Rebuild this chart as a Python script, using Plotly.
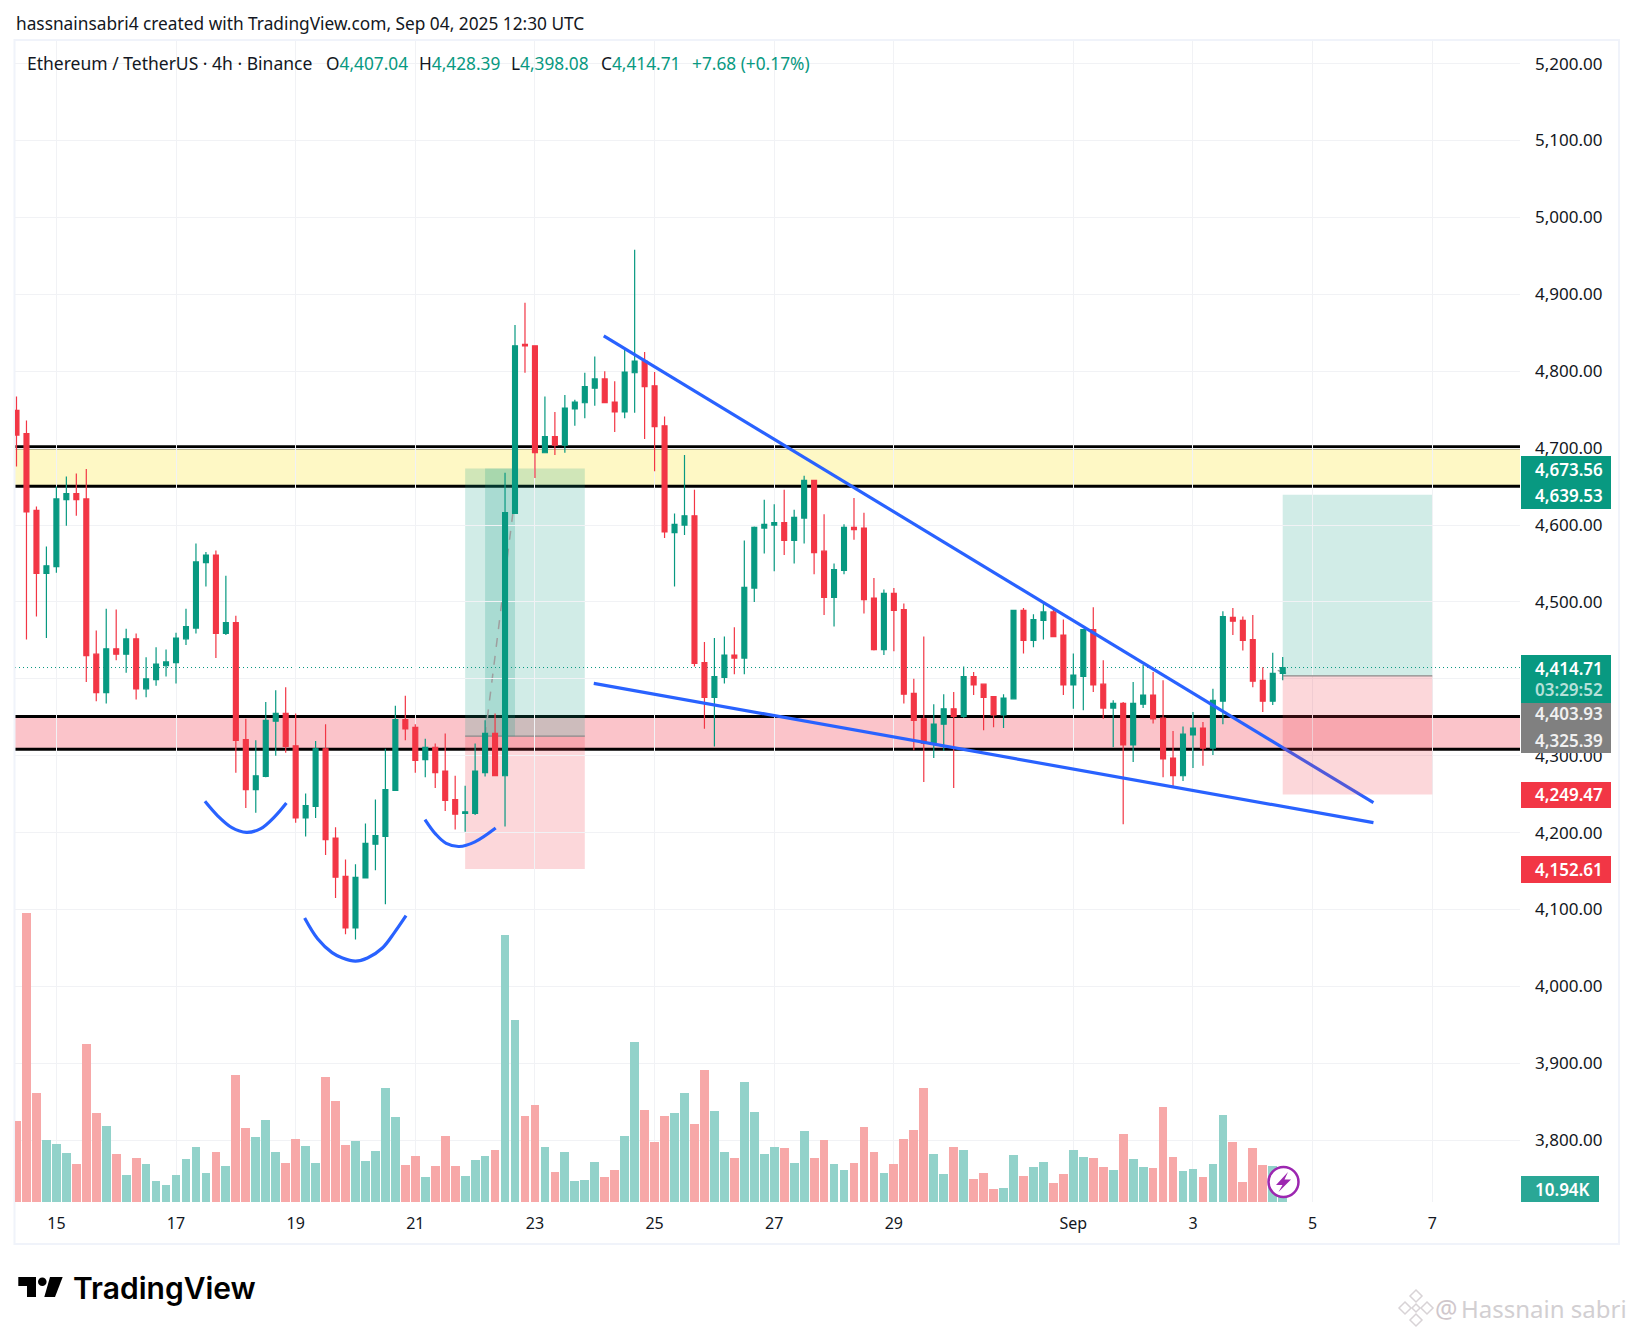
import pandas as pd
import plotly.graph_objects as go

W = 1634
H = 1334
FONT = "Noto Sans"
GREEN = "#089981"
RED = "#F23645"
BLUE = "#2962FF"
TEXT = "#131722"

# 4h candles, first one is Aug 14 08:00 UTC
opens = [4749, 4719, 4619, 4537, 4546, 4633, 4641, 4634, 4432, 4382, 4439, 4432, 4452, 4387, 4399, 4417,
         4421, 4452, 4466, 4551, 4561, 4459, 4473, 4321, 4256, 4273, 4345, 4355, 4313, 4219, 4234, 4309,
         4193, 4143, 4076, 4141, 4185, 4195, 4255, 4347, 4337, 4295, 4311, 4280, 4243, 4225, 4225, 4278,
         4329, 4274, 4615, 4835, 4833, 4694, 4715, 4704, 4751, 4759, 4778, 4790, 4760, 4747, 4798, 4813,
         4781, 4729, 4590, 4600, 4612, 4421, 4376, 4402, 4431, 4427, 4518, 4596, 4600, 4603, 4580, 4609,
         4658, 4566, 4506, 4541, 4597, 4596, 4505, 4438, 4511, 4490, 4381, 4348, 4316, 4341, 4361, 4351,
         4403, 4393, 4377, 4353, 4374, 4489, 4450, 4476, 4487, 4457, 4392, 4403, 4464, 4393, 4362, 4368,
         4314, 4367, 4379, 4349, 4297, 4274, 4327, 4336, 4310, 4371, 4480, 4476, 4451, 4398, 4371, 4407.04]
highs = [4767, 4736, 4624, 4572, 4650, 4663, 4667, 4673, 4463, 4491, 4490, 4465, 4459, 4428, 4441, 4438,
         4460, 4491, 4576, 4565, 4567, 4534, 4482, 4348, 4320, 4370, 4385, 4389, 4355, 4251, 4319, 4341,
         4207, 4165, 4159, 4212, 4243, 4309, 4365, 4378, 4341, 4322, 4316, 4329, 4274, 4261, 4316, 4346,
         4355, 4668, 4860, 4889, 4833, 4767, 4747, 4769, 4763, 4798, 4819, 4800, 4787, 4829, 4958, 4825,
         4799, 4741, 4615, 4691, 4646, 4448, 4453, 4455, 4467, 4580, 4598, 4633, 4627, 4646, 4620, 4664,
         4658, 4614, 4550, 4601, 4635, 4616, 4531, 4516, 4518, 4498, 4400, 4455, 4367, 4380, 4383, 4416,
         4409, 4394, 4377, 4380, 4489, 4492, 4484, 4498, 4492, 4477, 4433, 4464, 4493, 4424, 4372, 4370,
         4396, 4418, 4409, 4398, 4332, 4338, 4357, 4344, 4387, 4488, 4492, 4481, 4483, 4415, 4434, 4428.39]
lows = [4676, 4451, 4481, 4453, 4538, 4599, 4612, 4396, 4371, 4368, 4424, 4408, 4373, 4376, 4391, 4403,
        4394, 4444, 4459, 4520, 4427, 4457, 4278, 4232, 4226, 4272, 4300, 4304, 4213, 4195, 4219, 4171,
        4115, 4068, 4061, 4141, 4151, 4107, 4255, 4320, 4278, 4272, 4258, 4228, 4204, 4201, 4223, 4273,
        4274, 4208, 4615, 4798, 4661, 4694, 4691, 4694, 4729, 4739, 4755, 4759, 4721, 4739, 4746, 4712,
        4670, 4583, 4520, 4587, 4416, 4335, 4312, 4394, 4406, 4406, 4500, 4563, 4540, 4561, 4550, 4576,
        4536, 4483, 4468, 4536, 4581, 4485, 4437, 4431, 4436, 4368, 4307, 4266, 4297, 4306, 4258, 4349,
        4379, 4333, 4337, 4336, 4374, 4433, 4441, 4451, 4455, 4379, 4361, 4359, 4383, 4348, 4311, 4211,
        4292, 4362, 4342, 4272, 4259, 4267, 4284, 4287, 4301, 4341, 4457, 4437, 4389, 4357, 4366, 4398.08]
closes = [4717, 4617, 4537, 4547, 4634, 4641, 4633, 4430, 4382, 4439, 4432, 4452, 4387, 4400, 4419, 4422,
          4453, 4468, 4552, 4561, 4459, 4473, 4320, 4256, 4274, 4346, 4355, 4312, 4219, 4235, 4309, 4191,
          4142, 4076, 4142, 4186, 4196, 4256, 4347, 4335, 4294, 4311, 4278, 4242, 4224, 4227, 4280, 4329,
          4274, 4616, 4833, 4833, 4694, 4715, 4704, 4752, 4760, 4780, 4790, 4759, 4747, 4799, 4813, 4780,
          4728, 4591, 4601, 4612, 4420, 4376, 4403, 4431, 4427, 4519, 4597, 4601, 4603, 4580, 4610, 4658,
          4564, 4506, 4542, 4597, 4594, 4503, 4438, 4511, 4489, 4380, 4346, 4316, 4341, 4361, 4351, 4403,
          4392, 4376, 4353, 4375, 4489, 4450, 4477, 4487, 4455, 4392, 4405, 4464, 4392, 4362, 4368, 4314,
          4368, 4379, 4348, 4296, 4274, 4328, 4336, 4310, 4372, 4481, 4475, 4450, 4397, 4371, 4407, 4414.71]
# volume in thousands
volumes = [68.0, 243.6, 91.6, 52.1, 48.7, 41.2, 31.9, 132.7, 74.8, 63.8, 40.3, 22.7, 37.0, 31.9, 17.6, 14.3,
           22.7, 36.1, 46.2, 24.4, 42.0, 30.2, 106.7, 62.2, 54.6, 68.9, 42.0, 32.8, 52.9, 47.0, 32.8, 105.0,
           84.8, 47.9, 51.2, 34.4, 42.8, 95.8, 71.4, 31.1, 38.6, 21.0, 30.2, 55.4, 30.2, 21.8, 35.3, 38.6,
           43.7, 225.1, 152.9, 72.2, 81.5, 46.2, 25.2, 42.0, 17.6, 18.5, 33.6, 21.0, 26.9, 55.4, 134.4, 77.3,
           50.4, 72.2, 74.8, 91.6, 65.5, 110.9, 76.4, 42.0, 37.0, 100.8, 75.6, 40.3, 46.2, 45.4, 32.8, 59.6,
           37.0, 52.1, 31.9, 26.9, 32.8, 63.0, 42.0, 24.4, 31.9, 52.9, 60.5, 95.8, 40.3, 23.5, 46.2, 43.7,
           19.3, 24.4, 10.9, 11.8, 39.5, 21.8, 29.4, 33.6, 16.0, 23.5, 43.7, 37.8, 37.0, 29.4, 26.9, 57.1,
           36.1, 29.4, 28.6, 79.8, 37.8, 26.0, 27.7, 21.0, 31.9, 73.1, 50.4, 16.8, 45.4, 31.1, 30.2, 10.94]

tick_dates = ["2025-08-15", "2025-08-17", "2025-08-19", "2025-08-21", "2025-08-23", "2025-08-25", "2025-08-27",
              "2025-08-29", "2025-09-01", "2025-09-03", "2025-09-05", "2025-09-07"]
tick_labels = ["15", "17", "19", "21", "23", "25", "27", "29", "Sep", "3", "5", "7"]
price_ticks = [3800, 3900, 4000, 4100, 4200, 4300, 4400, 4500, 4600, 4700, 4800, 4900, 5000, 5100, 5200]
price_tick_labels = ["3,800.00", "3,900.00", "4,000.00", "4,100.00", "4,200.00", "4,300.00", "", "4,500.00",
                     "4,600.00", "4,700.00", "4,800.00", "4,900.00", "5,000.00", "5,100.00", "5,200.00"]

# drawn lines, bars counted from Aug 15 00:00
wedge_top_bars = [54.9, 132.1]
wedge_top_prices = [4846, 4239]
wedge_low_bars = [53.9, 132.1]
wedge_low_prices = [4394, 4213]
arc_left_bars = [14.9, 16.2, 17.6, 19.06, 20.5, 21.9, 23.07]
arc_left_prices = [4240.7, 4221.6, 4206.5, 4200.4, 4205.2, 4220.8, 4238.5]
arc_mid_bars = [24.9, 26.2, 27.65, 28.7, 30, 31.2, 32.7, 33.9, 35.07]
arc_mid_prices = [4089, 4062, 4044, 4037, 4033, 4037, 4050, 4070, 4092]
arc_right_bars = [36.97, 38.05, 39.1, 40.4, 41.98, 44.06]
arc_right_prices = [4217, 4198, 4186, 4182, 4188, 4206]

yellow_zone = [4650.3, 4701]
pink_zone = [4308.3, 4351]
first_trade = {"start": "2025-08-21 20:00", "end": "2025-08-23 20:00", "target": 4673.56, "entry": 4325.39, "stop": 4152.61}
second_trade = {"start": "2025-09-04 12:00", "end": "2025-09-07 00:00", "target": 4639.53, "entry": 4403.93, "stop": 4249.47}
last_price = 4414.71


def bar_time(bar):
    return pd.Timestamp("2025-08-15") + pd.Timedelta(hours=4 * bar)


def px(x):
    return x / W


def py(y):
    return 1 - y / H


times = pd.date_range("2025-08-14 08:00", periods=len(opens), freq="4h")
vol_colors = ["#92D2CA" if c >= o else "#F7A8A8" for o, c in zip(opens, closes)]

fig = go.Figure()
fig.add_trace(go.Bar(x=times, y=volumes, yaxis="y2", marker=dict(color=vol_colors, line_width=0),
                     width=0.88 * 4 * 3600 * 1000, showlegend=False))
fig.add_trace(go.Candlestick(x=times, open=opens, high=highs, low=lows, close=closes, showlegend=False,
                             increasing=dict(line=dict(color=GREEN, width=1.2), fillcolor=GREEN),
                             decreasing=dict(line=dict(color=RED, width=1.2), fillcolor=RED),
                             whiskerwidth=0))

for bars, prices, shape in [(wedge_top_bars, wedge_top_prices, "linear"),
                            (wedge_low_bars, wedge_low_prices, "linear"),
                            (arc_left_bars, arc_left_prices, "spline"),
                            (arc_mid_bars, arc_mid_prices, "spline"),
                            (arc_right_bars, arc_right_prices, "spline")]:
    fig.add_trace(go.Scatter(x=[bar_time(b) for b in bars], y=prices, mode="lines", showlegend=False,
                             line=dict(color=BLUE, width=3.2, shape=shape)))

shapes = []


def zone(bottom, top, fill, top_width=3):
    shapes.append(dict(type="rect", xref="x domain", x0=0, x1=1, yref="y", y0=bottom, y1=top,
                       fillcolor=fill, line_width=0, layer="below"))
    for level, width in ((bottom, 3), (top, top_width)):
        shapes.append(dict(type="line", xref="x domain", x0=0, x1=1, yref="y", y0=level, y1=level,
                           line=dict(color="#000000", width=width), layer="below"))


def trade_box(t, red_layer):
    shapes.append(dict(type="rect", xref="x", yref="y", x0=t["start"], x1=t["end"], y0=t["entry"], y1=t["target"],
                       fillcolor="rgba(8,153,129,0.19)", line_width=0, layer="below"))
    shapes.append(dict(type="rect", xref="x", yref="y", x0=t["start"], x1=t["end"], y0=t["stop"], y1=t["entry"],
                       fillcolor="rgba(242,54,69,0.2)", line_width=0, layer=red_layer))
    shapes.append(dict(type="line", xref="x", yref="y", x0=t["start"], x1=t["end"], y0=t["entry"], y1=t["entry"],
                       line=dict(color="#8A8A8A", width=1.2), layer=red_layer))


zone(yellow_zone[0], yellow_zone[1], "#FEF8C5", top_width=4)
zone(pink_zone[0], pink_zone[1], "#FBC4CA")
shapes.append(dict(type="line", xref="x domain", x0=0, x1=1, yref="y", y0=last_price, y1=last_price,
                   line=dict(color=GREEN, width=1, dash="1px,3px"), layer="below"))
trade_box(first_trade, "below")
trade_box(second_trade, "above")

# darker span of the first trade and its path to the target
shapes.append(dict(type="rect", xref="x", yref="y", x0="2025-08-22 04:00", x1="2025-08-22 16:00",
                   y0=first_trade["entry"], y1=first_trade["target"],
                   fillcolor="rgba(8,153,129,0.2)", line_width=0, layer="below"))
shapes.append(dict(type="line", xref="x", yref="y", x0="2025-08-22 04:00", x1="2025-08-22 17:00",
                   y0=first_trade["entry"], y1=4664, line=dict(color="#9E9E9E", width=1.5, dash="dash"), layer="below"))
shapes.append(dict(type="line", xref="x", yref="y", x0="2025-09-04 10:00", x1="2025-09-04 15:00",
                   y0=4411, y1=4405, line=dict(color="#9E9E9E", width=1.5, dash="dash"), layer="below"))

# chart frame
shapes.append(dict(type="rect", xref="paper", yref="paper", x0=px(14.5), x1=px(1619), y0=py(1244), y1=py(40),
                   line=dict(color="#F0F3FA", width=2), fillcolor="rgba(0,0,0,0)", layer="below"))


def box(x0, y0, x1, y1, fill):
    shapes.append(dict(type="rect", xref="paper", yref="paper", x0=px(x0), x1=px(x1), y0=py(y1), y1=py(y0),
                       fillcolor=fill, line_width=0, layer="above"))


box(1521, 456, 1611, 509, GREEN)
box(1521, 655, 1611, 703, GREEN)
box(1521, 703, 1611, 753, "#808080")
box(1521, 782, 1611, 808, RED)
box(1521, 856, 1611, 883, RED)
box(1521, 1176, 1599, 1202, "#2AA796")


def polygon(points, fill):
    d = "M" + " L".join(f"{px(x):.5f},{py(y):.5f}" for x, y in points) + " Z"
    shapes.append(dict(type="path", xref="paper", yref="paper", path=d, fillcolor=fill, line_width=0, layer="above"))


# TradingView mark
polygon([(18.3, 1277), (36, 1277), (36, 1297), (27, 1297), (27, 1286), (18.3, 1286)], "#000000")
shapes.append(dict(type="circle", xref="paper", yref="paper", x0=px(38), x1=px(46.6), y0=py(1286), y1=py(1277.4),
                   fillcolor="#000000", line_width=0, layer="above"))
polygon([(50, 1277), (62.7, 1277), (55, 1297), (44.3, 1297)], "#000000")

# lightning badge
shapes.append(dict(type="circle", xref="paper", yref="paper", x0=px(1268.5), x1=px(1298.5), y0=py(1197), y1=py(1167),
                   fillcolor="#FFFFFF", line=dict(color="#9C27B0", width=2.5), layer="above"))
polygon([(1288, 1172), (1276, 1185), (1282.5, 1185), (1278.5, 1192), (1291, 1179.5), (1284.5, 1179.5)], "#9C27B0")

# watermark diamond
for cx, cy, r in [(1416, 1296, 6), (1405, 1308, 6), (1427, 1308, 6), (1416, 1308, 4), (1416, 1320, 6)]:
    d = f"M{px(cx)},{py(cy - r)} L{px(cx + r)},{py(cy)} L{px(cx)},{py(cy + r)} L{px(cx - r)},{py(cy)} Z"
    shapes.append(dict(type="path", xref="paper", yref="paper", path=d, line=dict(color="#D8D3D6", width=1.5),
                       layer="above"))

annotations = []


def label(x, y, text, size=16, color=TEXT, weight=None, family=FONT, anchor="left"):
    annotations.append(dict(xref="paper", yref="paper", x=px(x), y=py(y), text=text, showarrow=False,
                            xanchor=anchor, yanchor="middle", borderpad=0,
                            font=dict(family=family, size=size, color=color, weight=weight)))


label(15, 23, "hassnainsabri4 created with TradingView.com, Sep 04, 2025 12:30 UTC", size=17.3)
label(26, 63, "Ethereum / TetherUS · 4h · Binance", size=17.5)
for x, name, value in [(325, "O", "4,407.04"), (418, "H", "4,428.39"), (510, "L", "4,398.08"), (600, "C", "4,414.71")]:
    label(x, 63, f"{name}<span style='color:{GREEN}'>{value}</span>", size=17.3)
label(691, 63, "+7.68 (+0.17%)", size=17.3, color=GREEN)

label(1534, 469, "4,673.56", size=17, color="#FFFFFF", weight=600)
label(1534, 495, "4,639.53", size=17, color="#FFFFFF", weight=600)
label(1534, 668, "4,414.71", size=17, color="#FFFFFF", weight=600)
label(1534, 689, "03:29:52", size=17, color="#B5E0D9", weight=600)
label(1534, 713, "4,403.93", size=17, color="#F0F0F0", weight=600)
label(1534, 740, "4,325.39", size=17, color="#F0F0F0", weight=600)
label(1534, 795, "4,249.47", size=17, color="#FFFFFF", weight=600)
label(1534, 869, "4,152.61", size=17, color="#FFFFFF", weight=600)
label(1534, 1189, "10.94K", size=17, color="#FFFFFF", weight=600)

label(72, 1288, "TradingView", size=30, color="#000000", weight=600, family="Inter")
label(1434, 1308, "@", size=25, color="#D0C7CC")
label(1460, 1308, "Hassnain sabri", size=24, color="#D2CFD2")

fig.update_layout(
    width=W,
    height=H,
    autosize=False,
    margin=dict(l=0, r=0, t=0, b=0),
    paper_bgcolor="#FFFFFF",
    plot_bgcolor="#FFFFFF",
    showlegend=False,
    boxgap=0.3,
    bargap=0,
    font=dict(family=FONT, color=TEXT),
    shapes=shapes,
    annotations=annotations,
    xaxis=dict(
        domain=[px(15), px(1520)],
        range=["2025-08-14 07:24", "2025-09-08 11:12"],
        type="date",
        rangeslider_visible=False,
        tickmode="array",
        tickvals=tick_dates,
        ticktext=tick_labels,
        ticks="",
        ticklabelstandoff=10,
        tickfont=dict(size=16, color=TEXT),
        showgrid=True,
        gridcolor="#F1F2F5",
        gridwidth=1,
        showline=False,
        zeroline=False,
        anchor="y",
    ),
    yaxis=dict(
        domain=[py(1202), py(41)],
        range=[3719.7, 5229.4],
        side="right",
        tickmode="array",
        tickvals=price_ticks,
        ticktext=price_tick_labels,
        ticks="",
        ticklabelstandoff=14,
        tickfont=dict(size=17, color=TEXT),
        showgrid=True,
        gridcolor="#F1F2F5",
        gridwidth=1,
        showline=False,
        zeroline=False,
    ),
    yaxis2=dict(
        domain=[py(1202), py(41)],
        range=[0, 977],
        overlaying="y",
        visible=False,
    ),
)

fig.write_html("out.html", config=dict(displayModeBar=False), post_script="document.body.style.margin='0';")
